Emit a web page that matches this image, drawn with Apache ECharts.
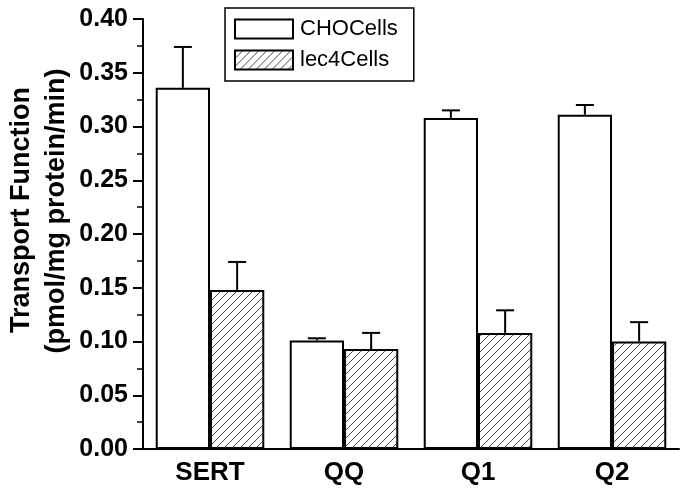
<!DOCTYPE html>
<html><head><meta charset="utf-8">
<script src="https://cdn.jsdelivr.net/npm/echarts@6/dist/echarts.min.js"></script>
<style>html,body{margin:0;padding:0;background:#fff}#c{width:687px;height:489px}</style>
</head><body><div id="c"></div>
<script>
var categories = ['SERT', 'QQ', 'Q1', 'Q2'];
var choValues = [0.336, 0.101, 0.308, 0.311];
var choErrors = [0.038, 0.002, 0.007, 0.009];
var lecValues = [0.148, 0.093, 0.108, 0.100];
var lecErrors = [0.026, 0.015, 0.021, 0.018];
var yTitleLines = ['Transport Function', '(pmol/mg protein/min)'];

var P = 8;
var pc = document.createElement('canvas');
pc.width = P; pc.height = P;
var g = pc.getContext('2d');
g.fillStyle = '#fff'; g.fillRect(0, 0, P, P);
g.strokeStyle = '#4a4a4a'; g.lineWidth = 1;
g.beginPath();
g.moveTo(-1, P + 1); g.lineTo(P + 1, -1);
g.moveTo(-P - 1, P + 1); g.lineTo(1, -1);
g.moveTo(P - 1, P + 1); g.lineTo(2 * P + 1, -1);
g.stroke();

var chart = echarts.init(document.getElementById('c'), null, {renderer: 'canvas'});
var gapRatio = 0.19;
function errSeries(vals, errs, side) {
  return {
    type: 'custom',
    silent: true,
    z: 5,
    renderItem: function (params, api) {
      var i = api.value(0);
      var band = api.size([1, 0])[0];
      var bw = band * (1 - gapRatio) / 2;
      var base = api.coord([i, api.value(1)]);
      var top = api.coord([i, api.value(1) + api.value(2)]);
      var x = base[0] + side * bw / 2;
      var cap = 9;
      return {
        type: 'group',
        children: [
          {type: 'line', shape: {x1: x, y1: base[1], x2: x, y2: top[1]}, style: {stroke: '#000', lineWidth: 2}},
          {type: 'line', shape: {x1: x - cap, y1: top[1], x2: x + cap, y2: top[1]}, style: {stroke: '#000', lineWidth: 2}}
        ]
      };
    },
    data: vals.map(function (v, i) { return [i, v, errs[i]]; })
  };
}

var font = 'Liberation Sans';
chart.setOption({
  animation: false,
  backgroundColor: '#fff',
  grid: {left: 143, right: 8, top: 19, bottom: 40, containLabel: false},
  legend: {
    left: 225, top: 8,
    orient: 'vertical',
    data: ['CHOCells', 'lec4Cells'],
    itemWidth: 58, itemHeight: 19,
    itemGap: 9,
    padding: [10, 16, 10, 9],
    borderColor: '#000', borderWidth: 1.5,
    icon: 'rect',
    textStyle: {fontFamily: font, fontSize: 22, color: '#000', padding: [0, 0, 0, 2]}
  },
  graphic: [
    {type: 'text', x: 22, y: 210, rotation: Math.PI / 2,
      style: {text: yTitleLines[0], font: 'bold 27px "Liberation Sans"', fill: '#000', textAlign: 'center', textVerticalAlign: 'middle'}},
    {type: 'text', x: 57, y: 211, rotation: Math.PI / 2,
      style: {text: yTitleLines[1], font: 'bold 27px "Liberation Sans"', fill: '#000', textAlign: 'center', textVerticalAlign: 'middle'}}
  ],
  xAxis: {
    type: 'category',
    data: categories,
    axisLine: {lineStyle: {color: '#000', width: 2}},
    axisTick: {show: false},
    axisLabel: {color: '#000', fontFamily: font, fontWeight: 'bold', fontSize: 26, margin: 11}
  },
  yAxis: {
    type: 'value',
    min: 0, max: 0.4, interval: 0.05,
    axisLine: {show: true, lineStyle: {color: '#000', width: 2}},
    axisTick: {show: true, inside: false, length: 10, lineStyle: {color: '#000', width: 2}},
    minorTick: {show: true, splitNumber: 2, length: 6, lineStyle: {color: '#000', width: 1.5}},
    splitLine: {show: false},
    axisLabel: {color: '#000', fontFamily: font, fontWeight: 'bold', fontSize: 25, margin: 15,
      formatter: function (v) { return v.toFixed(2); }}
  },
  series: [
    {name: 'CHOCells', type: 'bar', data: choValues, barGap: '0%', barCategoryGap: (gapRatio * 100) + '%',
      itemStyle: {color: '#fff', borderColor: '#000', borderWidth: 2}, z: 3},
    {name: 'lec4Cells', type: 'bar', data: lecValues,
      itemStyle: {color: {image: pc, repeat: 'repeat'}, borderColor: '#000', borderWidth: 2}, z: 3},
    errSeries(choValues, choErrors, -1),
    errSeries(lecValues, lecErrors, 1)
  ]
});
</script></body></html>
